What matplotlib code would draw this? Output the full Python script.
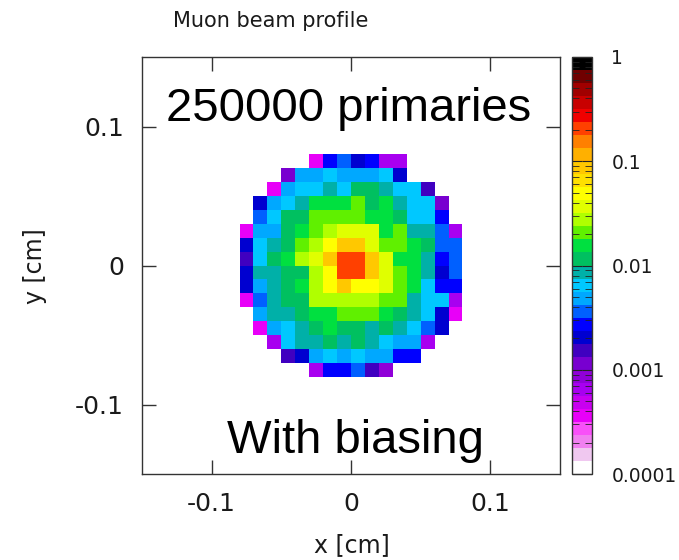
import numpy as np
import matplotlib.pyplot as plt
from matplotlib.colors import ListedColormap, LogNorm

# histogram bins [cm]
x_edges = np.arange(-8, 9) * 0.01
y_edges = np.arange(-8, 9) * 0.01

# normalised muon fluence per bin, top row (y = 0.07..0.08) first, 0 = empty
profile_rows = [
    [0, 0, 0, 0, 0, .00037, .0027, .0036, .0020, .0027, .00065, .00065, 0, 0, 0, 0],
    [0, 0, 0, .00115, .0049, .0049, .0065, .0049, .0049, .0049, .0065, .0020, 0, 0, 0, 0],
    [0, 0, .00037, .0049, .0065, .0065, .0087, .0065, .0115, .0115, .0087, .0065, .0065, .0015, 0, 0],
    [0, .0020, .0049, .0065, .0087, .0154, .0154, .0154, .0205, .0115, .0154, .0087, .0065, .0065, .00115, 0],
    [0, .0036, .0065, .0115, .0115, .0205, .0205, .0205, .0205, .0154, .0154, .0115, .0065, .0065, .0027, 0],
    [.00037, .0049, .0049, .0115, .0154, .0205, .0274, .0365, .0365, .0365, .0154, .0205, .0087, .0087, .0036, .00065],
    [.0020, .0065, .0087, .0115, .0205, .0274, .0487, .0866, .0866, .0365, .0205, .0205, .0154, .0115, .0036, .0036],
    [.0015, .0065, .0115, .0154, .0274, .0365, .0866, .205, .205, .0866, .0365, .0154, .0154, .0087, .0027, .0036],
    [.0020, .0087, .0087, .0115, .0115, .0274, .0487, .205, .205, .0866, .0365, .0205, .0154, .0087, .0020, .0036],
    [.0020, .0049, .0087, .0115, .0154, .0274, .0487, .0866, .0487, .0487, .0365, .0205, .0154, .0065, .0027, .0027],
    [.00037, .0036, .0087, .0115, .0115, .0274, .0274, .0274, .0274, .0274, .0205, .0205, .0087, .0065, .0065, .00065],
    [0, .0049, .0087, .0087, .0115, .0154, .0154, .0205, .0205, .0205, .0154, .0115, .0087, .0065, .0020, .00037],
    [0, .00037, .0049, .0065, .0087, .0115, .0154, .0115, .0115, .0087, .0115, .0087, .0065, .0036, .0020, 0],
    [0, 0, .00065, .0065, .0087, .0087, .0115, .0087, .0115, .0087, .0065, .0049, .0049, .00065, 0, 0],
    [0, 0, 0, .0015, .0020, .0049, .0065, .0049, .0065, .0049, .0049, .0027, .0027, 0, 0, 0],
    [0, 0, 0, 0, 0, .00065, .0027, .0027, .0036, .0015, .00087, 0, 0, 0, 0, 0],
]

# palette, lowest level first (8 levels per decade)
palette = [
    "#ffffff", "#f0c8f0", "#f080f0", "#f850f8", "#e800f8", "#c800f0", "#a800f0", "#9000d8",
    "#7800d0", "#4000c0", "#0000d0", "#0000ff", "#0060ff", "#00a8ff", "#00c8ff", "#00b0a8",
    "#00c060", "#00e040", "#60f000", "#b0ff00", "#e0ff00", "#ffff00", "#ffe000", "#ffc800",
    "#ffb000", "#ff8000", "#ff4000", "#f00000", "#c80000", "#a00000", "#700000", "#000000",
]
cbar_ticks = [1e-4, 1e-3, 1e-2, 1e-1, 1]
cbar_labels = ["0.0001", "0.001", "0.01", "0.1", "1"]

z = np.array(profile_rows)[::-1]
z = np.ma.masked_where(z <= 0, z)

fig = plt.figure(figsize=(6.79, 5.60), dpi=100)
ax = fig.add_axes([142 / 679, 86 / 560, 418 / 679, 417 / 560])
cax = fig.add_axes([572 / 679, 86 / 560, 20 / 679, 417 / 560])

cmap = ListedColormap(palette)
norm = LogNorm(vmin=1e-4, vmax=1)
mesh = ax.pcolormesh(x_edges, y_edges, z, cmap=cmap, norm=norm)

ax.set_xlim(-0.15, 0.15)
ax.set_ylim(-0.15, 0.15)
ax.set_xticks([-0.1, 0, 0.1])
ax.set_xticklabels(["-0.1", "0", "0.1"])
ax.set_yticks([-0.1, 0, 0.1])
ax.set_yticklabels(["-0.1", "0", "0.1"])
ax.tick_params(direction="in", top=True, right=True, length=10, width=1,
               labelsize=18, pad=13, color="#333333", labelcolor="#1a1a1a")
for s in ax.spines.values():
    s.set_color("#333333")
    s.set_linewidth(1)

ax.text(-0.002, 0.104, "250000 primaries", ha="center", va="baseline",
        fontsize=34, family="Liberation Sans")
ax.text(0.003, -0.135, "With biasing", ha="center", va="baseline",
        fontsize=34, family="Liberation Sans")

cb = fig.colorbar(mesh, cax=cax)
cb.outline.set_edgecolor("#333333")
cb.outline.set_linewidth(1)
cax.set_yticks(cbar_ticks)
cax.set_yticklabels(cbar_labels)
cax.tick_params(which="both", direction="in", left=True, right=True,
                labelleft=False, labelright=True, color="#222222")
cax.tick_params(which="major", length=7, labelsize=13.5, pad=14, labelcolor="#1a1a1a")
cax.tick_params(which="minor", length=5)

fig.text(271 / 679, 1 - 21 / 560, "Muon beam profile", ha="center", va="center",
         fontsize=15, color="#1a1a1a")
fig.text(352 / 679, 1 - 545 / 560, "x [cm]", ha="center", va="center",
         fontsize=17, color="#1a1a1a")
fig.text(35 / 679, 1 - 266 / 560, "y [cm]", ha="center", va="center",
         rotation=90, fontsize=17, color="#1a1a1a")

fig.savefig("out.png", dpi=100)
